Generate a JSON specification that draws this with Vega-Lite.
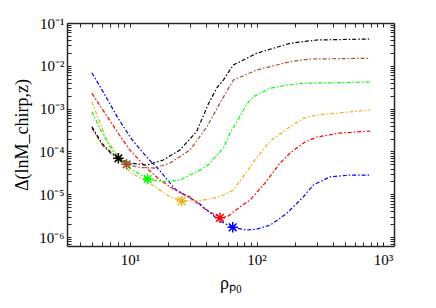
{
  "$schema": "https://vega.github.io/schema/vega-lite/v6.json",
  "width": 327,
  "height": 223,
  "autosize": "none",
  "padding": {"left": 67, "top": 23, "right": 42, "bottom": 62},
  "background": "white",
  "config": {
    "view": {"stroke": null},
    "font": "Liberation Serif",
    "axis": {
      "labelFont": "Liberation Serif",
      "labelFontSize": 15,
      "labelColor": "#000000",
      "titleFont": "Liberation Serif",
      "titleFontSize": 18,
      "titleFontWeight": "normal",
      "titleColor": "#000000",
      "grid": false,
      "domainColor": "#262626",
      "domainWidth": 1.5,
      "tickColor": "#262626",
      "tickWidth": 1,
      "tickSize": -4
    }
  },
  "datasets": {
    "curves": [
      {"s": "1", "x": 5.0, "y": 6.9e-3},
      {"s": "1", "x": 6.34, "y": 2.08e-3},
      {"s": "1", "x": 8.04, "y": 6.0e-4},
      {"s": "1", "x": 10.3, "y": 1.95e-4},
      {"s": "1", "x": 13.55, "y": 7.4e-5},
      {"s": "1", "x": 17.3, "y": 3.5e-5},
      {"s": "1", "x": 22.7, "y": 1.32e-5},
      {"s": "1", "x": 29.8, "y": 8.2e-6},
      {"s": "1", "x": 35.7, "y": 5.9e-6},
      {"s": "1", "x": 51.4, "y": 2.37e-6},
      {"s": "1", "x": 64.9, "y": 1.69e-6},
      {"s": "1", "x": 83.6, "y": 1.46e-6},
      {"s": "1", "x": 100.5, "y": 1.54e-6},
      {"s": "1", "x": 128, "y": 1.9e-6},
      {"s": "1", "x": 173, "y": 3.58e-6},
      {"s": "1", "x": 234.6, "y": 8.74e-6},
      {"s": "1", "x": 281, "y": 1.64e-5},
      {"s": "1", "x": 381, "y": 2.56e-5},
      {"s": "1", "x": 548, "y": 2.8e-5},
      {"s": "1", "x": 790, "y": 2.81e-5},

      {"s": "2", "x": 5.0, "y": 2.28e-3},
      {"s": "2", "x": 6.34, "y": 7.9e-4},
      {"s": "2", "x": 8.04, "y": 2.7e-4},
      {"s": "2", "x": 10, "y": 1.08e-4},
      {"s": "2", "x": 13.55, "y": 4.1e-5},
      {"s": "2", "x": 17.3, "y": 2.15e-5},
      {"s": "2", "x": 22.7, "y": 1.25e-5},
      {"s": "2", "x": 29.8, "y": 8.6e-6},
      {"s": "2", "x": 39.2, "y": 4.5e-6},
      {"s": "2", "x": 51.4, "y": 2.82e-6},
      {"s": "2", "x": 59.8, "y": 3.1e-6},
      {"s": "2", "x": 74.1, "y": 5.1e-6},
      {"s": "2", "x": 88.9, "y": 7.3e-6},
      {"s": "2", "x": 116.7, "y": 1.83e-5},
      {"s": "2", "x": 153.5, "y": 5.36e-5},
      {"s": "2", "x": 184, "y": 9.2e-5},
      {"s": "2", "x": 241.6, "y": 1.66e-4},
      {"s": "2", "x": 299, "y": 2.17e-4},
      {"s": "2", "x": 457, "y": 2.69e-4},
      {"s": "2", "x": 790, "y": 3.0e-4},

      {"s": "3", "x": 5.0, "y": 1.45e-3},
      {"s": "3", "x": 6.55, "y": 1.85e-4},
      {"s": "3", "x": 8.59, "y": 5.74e-5},
      {"s": "3", "x": 10, "y": 3.3e-5},
      {"s": "3", "x": 14.4, "y": 1.8e-5},
      {"s": "3", "x": 19.5, "y": 9.6e-6},
      {"s": "3", "x": 25.6, "y": 6.93e-6},
      {"s": "3", "x": 35.7, "y": 7.05e-6},
      {"s": "3", "x": 51.4, "y": 8.74e-6},
      {"s": "3", "x": 65.6, "y": 1.25e-5},
      {"s": "3", "x": 78.2, "y": 2.52e-5},
      {"s": "3", "x": 97.3, "y": 6.3e-5},
      {"s": "3", "x": 128, "y": 1.75e-4},
      {"s": "3", "x": 184, "y": 3.78e-4},
      {"s": "3", "x": 234.6, "y": 5.93e-4},
      {"s": "3", "x": 299, "y": 7.08e-4},
      {"s": "3", "x": 790, "y": 9.27e-4},

      {"s": "4", "x": 5.0, "y": 8.5e-4},
      {"s": "4", "x": 5.8, "y": 3.4e-4},
      {"s": "4", "x": 7.21, "y": 1.08e-4},
      {"s": "4", "x": 10, "y": 4.0e-5},
      {"s": "4", "x": 13.8, "y": 2.27e-5},
      {"s": "4", "x": 18.3, "y": 1.96e-5},
      {"s": "4", "x": 24.8, "y": 2.15e-5},
      {"s": "4", "x": 35.7, "y": 3.67e-5},
      {"s": "4", "x": 41.4, "y": 4.8e-5},
      {"s": "4", "x": 54.7, "y": 1.2e-4},
      {"s": "4", "x": 61.6, "y": 2.65e-4},
      {"s": "4", "x": 69.7, "y": 4.87e-4},
      {"s": "4", "x": 83.6, "y": 1.28e-3},
      {"s": "4", "x": 94.4, "y": 1.9e-3},
      {"s": "4", "x": 128, "y": 2.98e-3},
      {"s": "4", "x": 173, "y": 3.56e-3},
      {"s": "4", "x": 234.6, "y": 3.9e-3},
      {"s": "4", "x": 790, "y": 4.18e-3},

      {"s": "5", "x": 5.0, "y": 3.5e-4},
      {"s": "5", "x": 6.0, "y": 1.45e-4},
      {"s": "5", "x": 7.0, "y": 9.2e-5},
      {"s": "5", "x": 8.1, "y": 6.5e-5},
      {"s": "5", "x": 9.4, "y": 5.0e-5},
      {"s": "5", "x": 12, "y": 4.2e-5},
      {"s": "5", "x": 15.8, "y": 4.1e-5},
      {"s": "5", "x": 20.7, "y": 5.36e-5},
      {"s": "5", "x": 29.8, "y": 1.08e-4},
      {"s": "5", "x": 40.4, "y": 3.72e-4},
      {"s": "5", "x": 51.4, "y": 1.35e-3},
      {"s": "5", "x": 65.6, "y": 4.66e-3},
      {"s": "5", "x": 100.5, "y": 8.0e-3},
      {"s": "5", "x": 184, "y": 1.25e-2},
      {"s": "5", "x": 265, "y": 1.44e-2},
      {"s": "5", "x": 790, "y": 1.5e-2},

      {"s": "6", "x": 5.0, "y": 3.78e-4},
      {"s": "6", "x": 6.0, "y": 1.55e-4},
      {"s": "6", "x": 7.0, "y": 9.8e-5},
      {"s": "6", "x": 8.1, "y": 6.9e-5},
      {"s": "6", "x": 10, "y": 5.4e-5},
      {"s": "6", "x": 13.55, "y": 4.8e-5},
      {"s": "6", "x": 18.3, "y": 6.3e-5},
      {"s": "6", "x": 24.8, "y": 1.08e-4},
      {"s": "6", "x": 33.6, "y": 2.9e-4},
      {"s": "6", "x": 41.6, "y": 1.28e-3},
      {"s": "6", "x": 48.4, "y": 3.0e-3},
      {"s": "6", "x": 54.7, "y": 4.66e-3},
      {"s": "6", "x": 65.6, "y": 1.05e-2},
      {"s": "6", "x": 100.5, "y": 1.96e-2},
      {"s": "6", "x": 184, "y": 3.36e-2},
      {"s": "6", "x": 299, "y": 4.01e-2},
      {"s": "6", "x": 790, "y": 4.23e-2}
    ],
    "stars": [
      {"s": "1", "x": 64.9, "y": 1.69e-6},
      {"s": "2", "x": 51.4, "y": 2.82e-6},
      {"s": "3", "x": 25.6, "y": 6.93e-6},
      {"s": "4", "x": 13.8, "y": 2.27e-5},
      {"s": "5", "x": 9.4, "y": 5.0e-5},
      {"s": "6", "x": 8.1, "y": 6.9e-5}
    ]
  },
  "layer": [
    {
      "data": {"name": "curves"},
      "mark": {"type": "line", "strokeWidth": 1.2, "strokeDash": [4, 2, 1.5, 2], "clip": true},
      "encoding": {
        "x": {
          "field": "x", "type": "quantitative",
          "scale": {"type": "log", "domain": [3.18, 1220], "nice": false},
          "axis": {
            "orient": "bottom",
            "title": "ρₚ₀",
            "titlePadding": 7,
            "labelPadding": 10,
            "values": [4,5,6,7,8,9,10,20,30,40,50,60,70,80,90,100,200,300,400,500,600,700,800,900,1000],
            "labelExpr": "abs(log(datum.value)/LN10 - round(log(datum.value)/LN10)) < 0.001 ? '10' + ['⁰','¹','²','³'][round(log(datum.value)/LN10)] : ''"
          }
        },
        "y": {
          "field": "y", "type": "quantitative",
          "scale": {"type": "log", "domain": [6.2e-7, 0.1], "nice": false},
          "axis": {
            "orient": "left",
            "title": "Δ(lnM_chirp,z)",
            "titlePadding": 7,
            "labelPadding": 7,
            "values": [7e-7,8e-7,9e-7,1e-6,2e-6,3e-6,4e-6,5e-6,6e-6,7e-6,8e-6,9e-6,1e-5,2e-5,3e-5,4e-5,5e-5,6e-5,7e-5,8e-5,9e-5,1e-4,2e-4,3e-4,4e-4,5e-4,6e-4,7e-4,8e-4,9e-4,1e-3,2e-3,3e-3,4e-3,5e-3,6e-3,7e-3,8e-3,9e-3,1e-2,2e-2,3e-2,4e-2,5e-2,6e-2,7e-2,8e-2,9e-2,0.1],
            "labelExpr": "abs(log(datum.value)/LN10 - round(log(datum.value)/LN10)) < 0.001 ? '10' + ['⁰','⁻¹','⁻²','⁻³','⁻⁴','⁻⁵','⁻⁶','⁻⁷'][-round(log(datum.value)/LN10)] : ''"
          }
        },
        "color": {
          "field": "s", "type": "nominal",
          "scale": {"domain": ["1","2","3","4","5","6"], "range": ["#0000ff","#ff0000","#edb120","#00ff00","#a0522d","#000000"]},
          "legend": null
        }
      }
    },
    {
      "data": {"name": "stars"},
      "mark": {"type": "point", "shape": "M-1,0L1,0M0,-1L0,1M-0.72,-0.72L0.72,0.72M-0.72,0.72L0.72,-0.72", "filled": false, "size": 110, "strokeWidth": 1.5, "opacity": 1},
      "encoding": {
        "x": {"field": "x", "type": "quantitative", "axis": {"orient": "top", "title": null, "labels": false, "values": [4,5,6,7,8,9,10,20,30,40,50,60,70,80,90,100,200,300,400,500,600,700,800,900,1000]}},
        "y": {"field": "y", "type": "quantitative", "axis": {"orient": "right", "title": null, "labels": false, "values": [7e-7,8e-7,9e-7,1e-6,2e-6,3e-6,4e-6,5e-6,6e-6,7e-6,8e-6,9e-6,1e-5,2e-5,3e-5,4e-5,5e-5,6e-5,7e-5,8e-5,9e-5,1e-4,2e-4,3e-4,4e-4,5e-4,6e-4,7e-4,8e-4,9e-4,1e-3,2e-3,3e-3,4e-3,5e-3,6e-3,7e-3,8e-3,9e-3,1e-2,2e-2,3e-2,4e-2,5e-2,6e-2,7e-2,8e-2,9e-2,0.1]}},
        "color": {"field": "s", "type": "nominal", "legend": null}
      }
    }
  ],
  "resolve": {"axis": {"x": "independent", "y": "independent"}}
}
